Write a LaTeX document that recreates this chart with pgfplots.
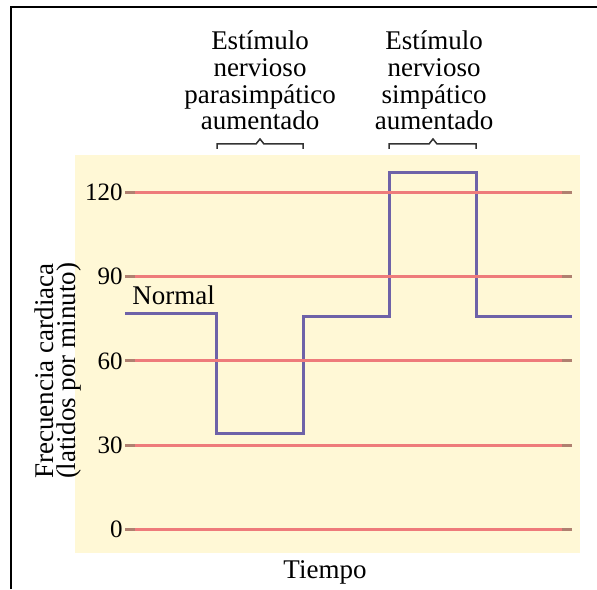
\documentclass[border=0pt]{standalone}
\usepackage{fontspec}
\setmainfont{Liberation Serif}
\newfontfamily\timesf{Liberation Serif}
\usepackage{pgfplots}
\pgfplotsset{compat=1.18}
\definecolor{bgy}{HTML}{FFF8D6}
\definecolor{gridred}{HTML}{EE7B7B}
\definecolor{stepc}{HTML}{6E62A8}
\definecolor{tickc}{HTML}{B08070}
\newcommand{\txtf}{\timesf\fontsize{13.5}{13.5}\selectfont}

\begin{document}
\begin{tikzpicture}
\begin{axis}[
  at={(0,0)}, anchor=south west,
  scale only axis, width=223.5pt, height=199pt,
  xmin=0, xmax=5.08, ymin=-8.45, ymax=133.4,
  clip=false, axis on top,
  xtick=\empty,
  ytick={0,30,60,90,120},
  ymajorgrids, grid style={draw=gridred, line width=1.5pt},
  tick align=inside, major tick length=5pt,
  ytick pos=both, yticklabel pos=left,
  ytick style={draw=tickc, line width=1.5pt},
  axis line style={draw=none},
  yticklabel style={inner xsep=0pt, xshift=-1pt, font=\timesf\fontsize{12.5}{12.5}\selectfont},
  /pgf/number format/assume math mode=true,
]
% fondo amarillo
\fill[bgy] (axis cs:-0.568,-8.45) rectangle (axis cs:5.17,133.4);
% frecuencia cardiaca en el tiempo
\addplot[stepc, line width=1.5pt, line join=miter] coordinates {
  (0,77) (1.045,77) (1.045,34.2) (2.023,34.2) (2.023,75.8)
  (3.011,75.8) (3.011,127.3) (3.989,127.3) (3.989,75.8) (5.08,75.8)};
\end{axis}
\begin{scope}[x=0.5pt, y=-0.5pt, shift={(-125,-553)}]
  % marco
  \draw[black, line width=1pt] (11,589) -- (11,7.5) -- (597,7.5);
  % textos superiores
  \node[anchor=base, inner sep=0pt, font=\txtf] at (260,50) {Estímulo};
  \node[anchor=base, inner sep=0pt, font=\txtf] at (260,77) {nervioso};
  \node[anchor=base, inner sep=0pt, font=\txtf] at (260,104) {parasimpático};
  \node[anchor=base, inner sep=0pt, font=\txtf] at (260,130) {aumentado};
  \node[anchor=base, inner sep=0pt, font=\txtf] at (434,50) {Estímulo};
  \node[anchor=base, inner sep=0pt, font=\txtf] at (434,77) {nervioso};
  \node[anchor=base, inner sep=0pt, font=\txtf] at (434,104) {simpático};
  \node[anchor=base, inner sep=0pt, font=\txtf] at (434,130) {aumentado};
  % llaves
  \draw[black!80, line width=0.75pt] (217,149) -- (217,144) -- (256,144) -- (260,139) -- (264,144) -- (303,144) -- (303,149);
  \draw[black!80, line width=0.75pt] (389,149) -- (389,144) -- (429,144) -- (433,139) -- (437,144) -- (476,144) -- (476,149);
  % etiquetas
  \node[anchor=base west, inner sep=0pt, font=\txtf] at (132,304) {Normal};
  \node[anchor=base, inner sep=0pt, font=\txtf] at (325,578) {Tiempo};
  \node[anchor=base, inner sep=0pt, rotate=90, font=\txtf] at (53,371) {Frecuencia cardiaca};
  \node[anchor=base, inner sep=0pt, rotate=90, font=\txtf] at (75,371) {(latidos por minuto)};
  \pgfresetboundingbox
  \path (0,0) rectangle (597,589);
\end{scope}
\end{tikzpicture}
\end{document}
